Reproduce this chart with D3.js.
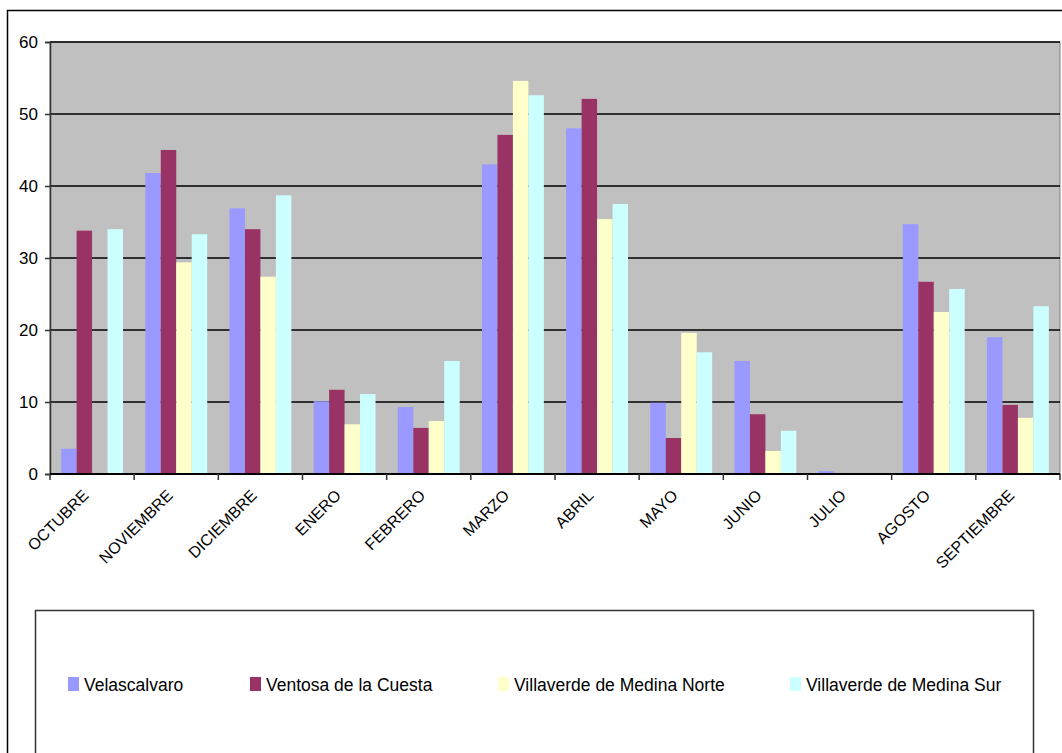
<html>
  <head>
    <style>
      body { margin: 0; background: #fff; }
      text { font-family: Arial, "Liberation Sans", sans-serif; fill: #000; }
    </style>
  </head>
  <body>
    <script src="https://d3js.org/d3.v7.min.js"></script>
    <script>
    var width = 1062, height = 753;

    // months on the x axis
    var months = ["OCTUBRE", "NOVIEMBRE", "DICIEMBRE", "ENERO", "FEBRERO", "MARZO",
                  "ABRIL", "MAYO", "JUNIO", "JULIO", "AGOSTO", "SEPTIEMBRE"];

    // series names and their values, one per month
    var seriesNames = ["Velascalvaro", "Ventosa de la Cuesta", "Villaverde de Medina Norte", "Villaverde de Medina Sur"];
    var velascalvaro = [3.5, 41.8, 36.9, 10.1, 9.3, 43.0, 48.0, 9.9, 15.7, 0.4, 34.7, 19.0];
    var ventosa      = [33.8, 45.0, 34.0, 11.7, 6.4, 47.1, 52.1, 5.0, 8.3, 0, 26.7, 9.6];
    var vmNorte      = [0, 29.4, 27.4, 6.9, 7.35, 54.6, 35.4, 19.6, 3.2, 0, 22.5, 7.8];
    var vmSur        = [34.0, 33.3, 38.7, 11.1, 15.7, 52.6, 37.5, 16.9, 6.0, 0, 25.7, 23.3];

    var yTicks = [0, 10, 20, 30, 40, 50, 60];

    var colors = ["#9999FF", "#993366", "#FFFFCC", "#CCFFFF"];
    var allSeries = [velascalvaro, ventosa, vmNorte, vmSur];

    var plot = {left: 50, top: 42, right: 1060, bottom: 474};

    var svg = d3.select("body")
        .append("svg")
        .attr("width", width)
        .attr("height", height);

    // outer chart frame (runs off the right and bottom)
    svg.append("rect")
        .attr("x", 7.5).attr("y", 10.5)
        .attr("width", width).attr("height", height)
        .attr("fill", "none")
        .attr("stroke", "#000")
        .attr("stroke-width", 1.5);

    var x0 = d3.scaleBand()
        .domain(months)
        .range([plot.left, plot.right])
        .paddingInner(0).paddingOuter(0);

    var x1 = d3.scaleBand()
        .domain(seriesNames)
        .range([0, x0.bandwidth()])
        .paddingInner(0)
        .paddingOuter(0.72);

    var y = d3.scaleLinear()
        .domain([0, 60])
        .range([plot.bottom, plot.top]);

    var color = d3.scaleOrdinal().domain(seriesNames).range(colors);

    // plot background
    svg.append("rect")
        .attr("x", plot.left).attr("y", plot.top)
        .attr("width", plot.right - plot.left)
        .attr("height", plot.bottom - plot.top)
        .attr("fill", "#C0C0C0")
        .attr("stroke", "#808080")
        .attr("stroke-width", 1);

    // gridlines
    svg.append("g")
        .selectAll("line")
        .data(yTicks.filter(function(d){ return d > 0; }))
        .enter().append("line")
          .attr("x1", plot.left).attr("x2", plot.right)
          .attr("y1", function(d){ return y(d); })
          .attr("y2", function(d){ return y(d); })
          .attr("stroke", "#000")
          .attr("stroke-width", 1.5);

    // bars
    var rows = months.map(function(m, i){
      return {month: m, values: seriesNames.map(function(s, j){ return {name: s, value: allSeries[j][i]}; })};
    });

    svg.append("g")
      .selectAll("g")
      .data(rows)
      .enter().append("g")
        .attr("transform", function(d){ return "translate(" + x0(d.month) + ",0)"; })
      .selectAll("rect")
      .data(function(d){ return d.values; })
      .enter().append("rect")
        .attr("x", function(d){ return x1(d.name); })
        .attr("width", x1.bandwidth())
        .attr("y", function(d){ return y(d.value); })
        .attr("height", function(d){ return plot.bottom - y(d.value); })
        .attr("fill", function(d){ return color(d.name); });

    // y axis
    var yAxis = svg.append("g")
        .attr("transform", "translate(" + plot.left + ",0)")
        .call(d3.axisLeft(y).tickValues(yTicks).tickSize(5).tickPadding(7));
    yAxis.select(".domain").attr("stroke", "#333").attr("stroke-width", 1.5);
    yAxis.selectAll(".tick line").attr("stroke", "#333").attr("stroke-width", 1.5);
    yAxis.selectAll("text")
        .style("font-size", "17px")
        .style("font-family", "Arial, 'Liberation Sans', sans-serif")
        .attr("fill", "#000");

    // x axis with ticks at the category boundaries
    var xAxis = svg.append("g")
        .attr("transform", "translate(0," + plot.bottom + ")");
    xAxis.append("line")
        .attr("x1", plot.left).attr("x2", plot.right)
        .attr("stroke", "#000").attr("stroke-width", 2);
    xAxis.selectAll(".tk")
        .data(months.concat(["end"]))
        .enter().append("line")
          .attr("class", "tk")
          .attr("x1", function(d, i){ return plot.left + i * x0.step(); })
          .attr("x2", function(d, i){ return plot.left + i * x0.step(); })
          .attr("y1", 0).attr("y2", 6)
          .attr("stroke", "#333").attr("stroke-width", 1.5);

    xAxis.selectAll(".lbl")
        .data(months)
        .enter().append("text")
          .attr("class", "lbl")
          .attr("transform", function(d){
            return "translate(" + (x0(d) + x0.bandwidth() / 2 - 11) + ",14) rotate(-45)";
          })
          .attr("dy", "0.75em")
          .style("text-anchor", "end")
          .style("font-size", "16px")
          .text(function(d){ return d; });

    // legend box
    svg.append("rect")
        .attr("x", 35.5).attr("y", 610.5)
        .attr("width", 998).attr("height", 200)
        .attr("fill", "#fff")
        .attr("stroke", "#333")
        .attr("stroke-width", 1.5);

    var legendX = [68, 250, 498, 790];
    var legend = svg.append("g")
      .selectAll("g")
      .data(seriesNames)
      .enter().append("g")
        .attr("transform", function(d, i){ return "translate(" + legendX[i] + ",677)"; });
    legend.append("rect")
        .attr("width", 11).attr("height", 14)
        .attr("fill", function(d){ return color(d); });
    legend.append("text")
        .attr("x", 16).attr("y", 14)
        .style("font-size", "17.5px")
        .text(function(d){ return d; });
    </script>
  </body>
</html>
